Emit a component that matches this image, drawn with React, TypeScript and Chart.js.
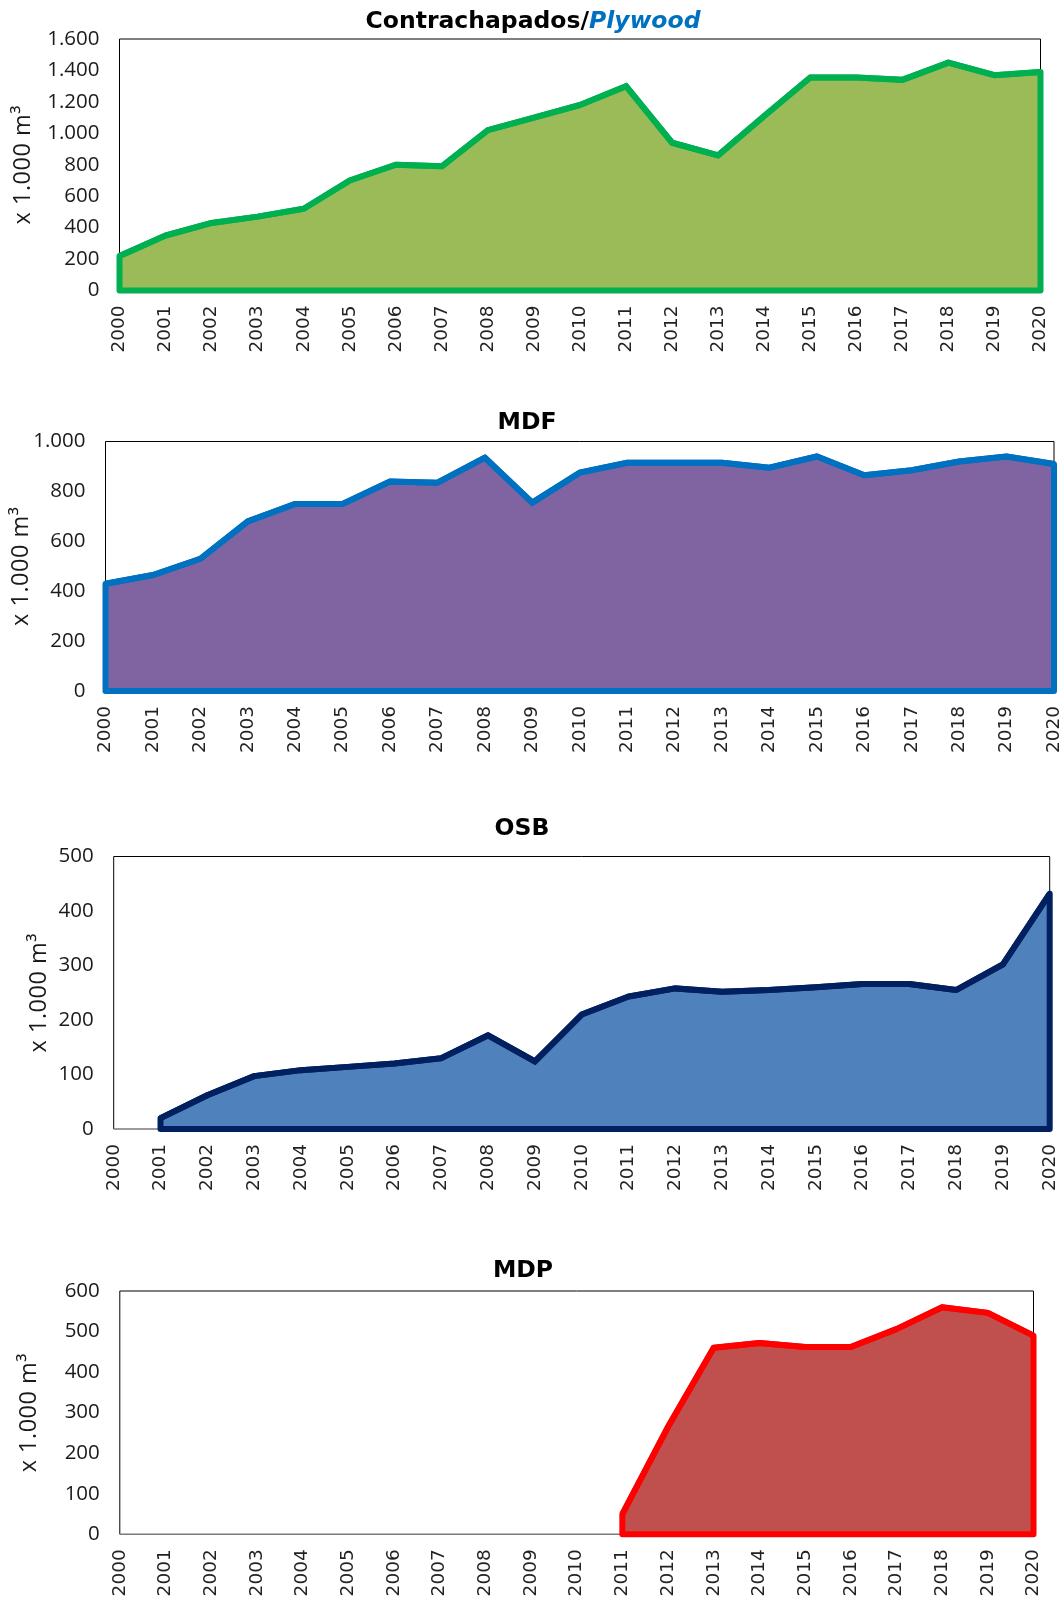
import React, { useEffect, useRef } from "react";
import { Chart, registerables } from "chart.js";

Chart.register(...registerables);

// ---------- data ----------
const years = [
  "2000", "2001", "2002", "2003", "2004", "2005", "2006", "2007", "2008", "2009", "2010",
  "2011", "2012", "2013", "2014", "2015", "2016", "2017", "2018", "2019", "2020",
];

const plywoodValues = [220, 350, 430, 470, 520, 700, 800, 790, 1020, 1100, 1180, 1300, 940, 860, 1110, 1355, 1355, 1340, 1450, 1370, 1390];
const mdfValues = [430, 465, 530, 680, 750, 750, 840, 835, 935, 755, 875, 915, 915, 915, 895, 940, 865, 885, 920, 940, 910];
const osbValues = [null, 20, 62, 97, 108, 114, 120, 130, 172, 124, 210, 243, 258, 252, 255, 260, 266, 266, 255, 302, 432];
const mdpValues = [null, null, null, null, null, null, null, null, null, null, null, 50, 265, 460, 472, 462, 462, 506, 560, 546, 490];

const plywoodTicks = [0, 200, 400, 600, 800, 1000, 1200, 1400, 1600];
const mdfTicks = [0, 200, 400, 600, 800, 1000];
const osbTicks = [0, 100, 200, 300, 400, 500];
const mdpTicks = [0, 100, 200, 300, 400, 500, 600];

const yAxisTitle = "x 1.000 m³";

// ---------- layout / style ----------
const W = 1061;

type TitlePart = { text: string; color: string; italic?: boolean };

type Spec = {
  key: string;
  values: (number | null)[];
  ticks: number[];
  fill: string;
  border: string;
  canvasTop: number;
  canvasH: number;
  plot: { l: number; t: number; r: number; b: number };
  title: TitlePart[];
  titleCx: number;
  titleBaseline: number;
  yTitleX: number;
};

const specs: Spec[] = [
  {
    key: "plywood",
    values: plywoodValues,
    ticks: plywoodTicks,
    fill: "#9BBB59",
    border: "#00B050",
    canvasTop: 0,
    canvasH: 380,
    plot: { l: 119.5, t: 39, r: 1040.5, b: 290.5 },
    title: [
      { text: "Contrachapados/", color: "#000000" },
      { text: "Plywood", color: "#0070C0", italic: true },
    ],
    titleCx: 533,
    titleBaseline: 28,
    yTitleX: 23,
  },
  {
    key: "mdf",
    values: mdfValues,
    ticks: mdfTicks,
    fill: "#8064A2",
    border: "#0070C0",
    canvasTop: 390,
    canvasH: 395,
    plot: { l: 105.5, t: 441.5, r: 1054, b: 691 },
    title: [{ text: "MDF", color: "#000000" }],
    titleCx: 527,
    titleBaseline: 429,
    yTitleX: 21,
  },
  {
    key: "osb",
    values: osbValues,
    ticks: osbTicks,
    fill: "#4F81BD",
    border: "#002060",
    canvasTop: 785,
    canvasH: 415,
    plot: { l: 113.7, t: 856.5, r: 1049.7, b: 1129 },
    title: [{ text: "OSB", color: "#000000" }],
    titleCx: 522,
    titleBaseline: 835,
    yTitleX: 39,
  },
  {
    key: "mdp",
    values: mdpValues,
    ticks: mdpTicks,
    fill: "#C0504D",
    border: "#FF0000",
    canvasTop: 1200,
    canvasH: 398,
    plot: { l: 119.8, t: 1291, r: 1033.5, b: 1534.3 },
    title: [{ text: "MDP", color: "#000000" }],
    titleCx: 523,
    titleBaseline: 1277,
    yTitleX: 29.5,
  },
];

const fmt = (v: number) => String(v).replace(/\B(?=(\d{3})+(?!\d))/g, ".");

const TITLE_FONT = "'DejaVu Sans', Verdana, sans-serif";
const TICK_FONT = "'Open Sans', 'Noto Sans', sans-serif";
const XTICK_FONT = "'DejaVu Sans', Verdana, sans-serif";

function makeDecor(spec: Spec) {
  return {
    id: "decor-" + spec.key,
    beforeDatasetsDraw(chart: any) {
      const { ctx, chartArea: a } = chart;
      ctx.save();
      ctx.strokeStyle = "#000000";
      ctx.lineWidth = 1;
      ctx.beginPath();
      ctx.moveTo(a.left, a.bottom);
      ctx.lineTo(a.left, a.top);
      ctx.lineTo(a.right, a.top);
      ctx.lineTo(a.right, a.bottom);
      ctx.stroke();
      ctx.strokeStyle = "#7a7a7a";
      ctx.lineWidth = 1.5;
      ctx.beginPath();
      ctx.moveTo(a.left, a.bottom);
      ctx.lineTo(a.right, a.bottom);
      ctx.stroke();
      ctx.restore();
    },
    afterDatasetsDraw(chart: any) {
      const { ctx } = chart;
      const meta = chart.getDatasetMeta(0);
      const y0 = chart.scales.y.getPixelForValue(0);
      const pts = meta.data.filter((p: any) => !p.skip);
      if (!pts.length) return;
      ctx.save();
      ctx.strokeStyle = spec.border;
      ctx.lineWidth = 6;
      ctx.lineJoin = "round";
      ctx.beginPath();
      ctx.moveTo(pts[0].x, y0);
      pts.forEach((p: any) => ctx.lineTo(p.x, p.y));
      ctx.lineTo(pts[pts.length - 1].x, y0);
      ctx.closePath();
      ctx.stroke();
      ctx.restore();
    },
    afterDraw(chart: any) {
      const { ctx, chartArea: a } = chart;
      ctx.save();
      // chart title (mixed styles)
      const fonts = spec.title.map(
        (p) => `${p.italic ? "italic " : ""}bold 23.5px ${TITLE_FONT}`
      );
      let total = 0;
      const widths = spec.title.map((p, i) => {
        ctx.font = fonts[i];
        const w = ctx.measureText(p.text).width;
        total += w;
        return w;
      });
      let x = spec.titleCx - total / 2;
      ctx.textBaseline = "alphabetic";
      ctx.textAlign = "left";
      spec.title.forEach((p, i) => {
        ctx.font = fonts[i];
        ctx.fillStyle = p.color;
        ctx.fillText(p.text, x, spec.titleBaseline - spec.canvasTop);
        x += widths[i];
      });
      // y axis title
      ctx.translate(spec.yTitleX, (a.top + a.bottom) / 2);
      ctx.rotate(-Math.PI / 2);
      ctx.font = `23.5px ${TICK_FONT}`;
      try {
        (ctx as any).letterSpacing = "0.5px";
      } catch (e) {
        /* ignore */
      }
      ctx.fillStyle = "#1a1a1a";
      ctx.textAlign = "center";
      ctx.textBaseline = "middle";
      ctx.fillText(yAxisTitle, 0, 0);
      ctx.restore();
    },
  };
}

function Panel({ spec }: { spec: Spec }) {
  const ref = useRef<HTMLCanvasElement>(null);
  useEffect(() => {
    const canvas = ref.current;
    if (!canvas) return;
    const xHeight = spec.canvasH - (spec.plot.b - spec.canvasTop);
    const chart = new Chart(canvas, {
      type: "line",
      data: {
        labels: years,
        datasets: [
          {
            data: spec.values,
            backgroundColor: spec.fill,
            borderColor: spec.border,
            borderWidth: 6,
            fill: "origin",
            pointRadius: 0,
            pointHoverRadius: 0,
            tension: 0,
            spanGaps: false,
            clip: false as any,
          },
        ],
      },
      options: {
        animation: false,
        responsive: false,
        devicePixelRatio: 1,
        events: [],
        layout: {
          padding: {
            left: 0,
            right: W - spec.plot.r,
            top: spec.plot.t - spec.canvasTop,
            bottom: 0,
          },
        },
        plugins: {
          legend: { display: false },
          tooltip: { enabled: false },
          title: { display: false },
        },
        scales: {
          x: {
            type: "category",
            offset: false,
            grid: { display: false, drawTicks: false },
            border: { display: false },
            ticks: {
              autoSkip: false,
              minRotation: 90,
              maxRotation: 90,
              padding: 15,
              color: "#222222",
              font: { family: XTICK_FONT, size: 18.5 },
            },
            afterFit(s: any) {
              s.height = xHeight;
              s.paddingLeft = 0;
              s.paddingRight = 0;
            },
          },
          y: {
            min: spec.ticks[0],
            max: spec.ticks[spec.ticks.length - 1],
            grid: { display: false, drawTicks: false },
            border: { display: false },
            ticks: {
              padding: 20,
              color: "#1a1a1a",
              font: { family: TICK_FONT, size: 20.5 },
              callback: (v: any) => fmt(Number(v)),
            },
            afterBuildTicks(s: any) {
              s.ticks = spec.ticks.map((v) => ({ value: v }));
            },
            afterFit(s: any) {
              s.width = spec.plot.l;
              s.paddingTop = 0;
              s.paddingBottom = 0;
            },
          },
        },
      },
      plugins: [makeDecor(spec)],
    });
    return () => chart.destroy();
  }, [spec]);
  return (
    <canvas
      ref={ref}
      width={W}
      height={spec.canvasH}
      style={{
        position: "absolute",
        left: 0,
        top: spec.canvasTop,
        width: W,
        height: spec.canvasH,
        display: "block",
      }}
    />
  );
}

export default function App() {
  return (
    <div
      style={{
        position: "absolute",
        left: 0,
        top: 0,
        width: W,
        height: 1598,
        overflow: "hidden",
        background: "#ffffff",
      }}
    >
      {specs.map((s) => (
        <Panel key={s.key} spec={s} />
      ))}
    </div>
  );
}
